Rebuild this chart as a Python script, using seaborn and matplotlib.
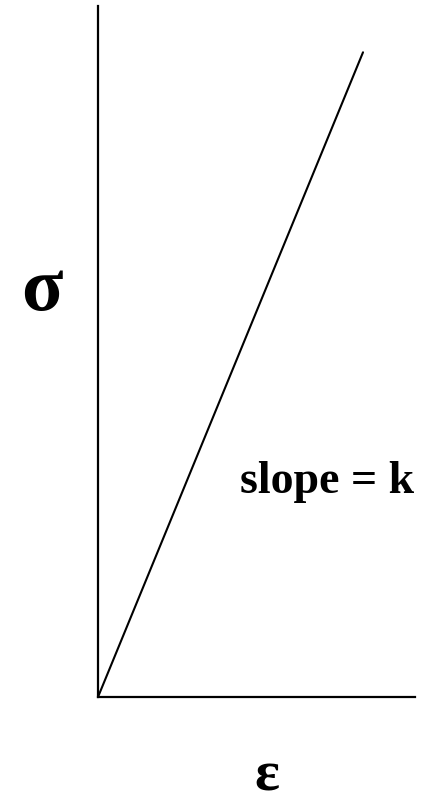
import pandas as pd
import seaborn as sns
import matplotlib.pyplot as plt

# Linear stress-strain sketch (arbitrary units, axes run 0..1)
strain = [0.0, 0.836]
stress = [0.0, 0.933]
x_label = "ε"
y_label = "σ"
note = "slope = k"

sns.set_theme(style="white")
plt.rcParams['font.family'] = ['Liberation Serif', 'DejaVu Serif']

W, H = 427, 804
fig = plt.figure(figsize=(W / 100, H / 100), dpi=100)
ax = fig.add_axes([98 / W, (H - 698) / H, (415 - 98) / W, (698 - 7) / H])

df = pd.DataFrame({'strain': strain, 'stress': stress})
sns.lineplot(data=df, x='strain', y='stress', ax=ax, color='black', linewidth=1.5)

ax.set_xlim(0, 1)
ax.set_ylim(0, 1)
ax.set_xticks([])
ax.set_yticks([])
ax.set_xlabel('')
ax.set_ylabel('')
for side in ['top', 'right']:
    ax.spines[side].set_visible(False)
for side in ['left', 'bottom']:
    ax.spines[side].set_color('black')
    ax.spines[side].set_linewidth(1.6)

fig.text(42 / W, 1 - 310 / H, y_label, fontsize=55, fontweight='bold',
         color='black', ha='center', va='baseline')
fig.text(267 / W, 1 - 791 / H, x_label, fontsize=42, fontweight='bold',
         color='black', ha='center', va='baseline')
fig.text(327 / W, 1 - 493 / H, note, fontsize=33, fontweight='bold',
         color='black', ha='center', va='baseline')

fig.savefig('out.png', dpi=100, facecolor='white')
